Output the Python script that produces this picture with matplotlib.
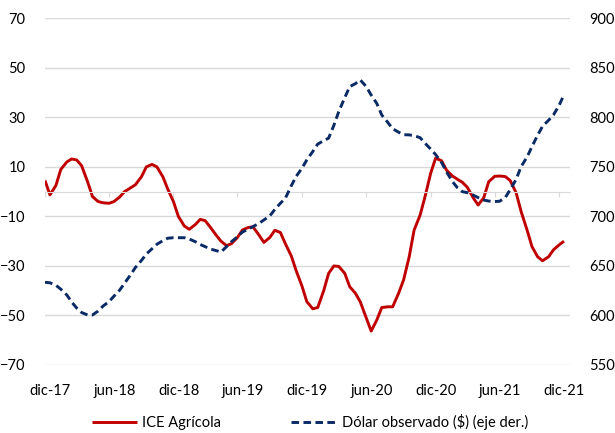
import numpy as np
import pandas as pd
import matplotlib
matplotlib.use('Agg')
import matplotlib.pyplot as plt

plt.rcParams['font.family'] = ['Lato', 'DejaVu Sans']

# semi-monthly readings, dic-17 .. dic-21
dates = pd.date_range('2017-12-01', '2021-12-16', freq='SMS')

ice_agricola = [
    4.5, -1.3, 2.5, 9.0, 12.0, 13.2, 12.8, 10.5, 4.0, -2.0,
    -4.0, -4.5, -4.7, -4.0, -2.2, 0.0, 1.5, 2.8, 6.0, 10.0,
    11.0, 10.0, 6.0, 1.0, -4.0, -10.0, -13.9, -15.2, -13.3, -11.2,
    -11.7, -14.2, -17.5, -20.0, -21.8, -21.0, -18.5, -15.5, -14.5, -14.2,
    -17.5, -20.5, -18.5, -15.6, -16.5, -21.0, -26.0, -32.0, -38.0, -44.4,
    -47.3, -46.8, -40.0, -33.0, -30.0, -30.2, -33.0, -38.4, -41.0, -44.5,
    -51.0, -56.3, -51.8, -46.8, -46.5, -46.5, -41.0, -35.7, -26.3, -15.5,
    -9.5, -2.0, 7.4, 13.5, 12.5, 8.7, 6.3, 5.0, 3.8, 1.8,
    -2.5, -5.4, -2.4, 4.0, 6.2, 6.3, 6.1, 4.5, -0.5, -8.0,
    -15.5, -22.2, -26.3, -27.9, -26.3, -23.5, -21.5, -20.0,
]

dolar_obs = [
    633.5, 633.0, 630.5, 626.5, 620.7, 613.5, 607.5, 603.0, 600.5, 600.5,
    604.5, 609.5, 614.0, 619.5, 625.5, 632.5, 641.0, 648.5, 655.5, 662.0,
    667.3, 671.9, 675.5, 678.0, 678.5, 678.5, 678.5, 677.2, 674.5, 671.7,
    669.5, 667.2, 665.5, 664.0, 669.5, 674.5, 679.5, 684.2, 687.0, 689.7,
    693.0, 696.4, 700.5, 707.0, 713.3, 718.3, 731.0, 740.5, 748.5, 757.0,
    765.5, 773.0, 776.5, 779.0, 792.0, 806.0, 820.0, 831.0, 834.0, 837.8,
    831.0, 822.5, 814.0, 802.4, 795.0, 788.5, 785.0, 782.5, 782.3, 781.5,
    779.5, 773.9, 768.0, 762.5, 754.5, 745.0, 735.1, 729.0, 725.0, 724.0,
    721.5, 719.0, 716.5, 715.5, 715.0, 715.3, 719.0, 727.0, 737.5, 750.2,
    760.0, 770.5, 782.0, 791.0, 797.0, 802.5, 812.0, 823.0,
]

tick_dates = pd.date_range('2017-12-01', '2021-12-01', freq='6MS')
tick_labels = ['dic-17', 'jun-18', 'dic-18', 'jun-19', 'dic-19',
               'jun-20', 'dic-20', 'jun-21', 'dic-21']
left_ticks = np.arange(-70, 71, 20)
right_ticks = np.arange(550, 901, 50)

red = '#c00000'
navy = '#0a2a66'
grid = '#d9d9d9'
fs = 10.5

fig, ax = plt.subplots(figsize=(6.15, 4.33), dpi=100)
fig.subplots_adjust(left=45/615, right=570/615, top=1-18.3/433, bottom=1-365/433)

ax.plot(dates, ice_agricola, color=red, lw=2.1, label='ICE Agrícola',
        solid_joinstyle='round', solid_capstyle='butt')
ax.set_ylim(-70, 70)
ax.set_yticks(left_ticks)
ax.set_xlim(pd.Timestamp('2017-12-01'), pd.Timestamp('2022-01-01'))
ax.grid(axis='y', color=grid, lw=1)
ax.set_axisbelow(True)
for s in ['left', 'right', 'top']:
    ax.spines[s].set_visible(False)
ax.spines['bottom'].set_position(('data', 0))
ax.spines['bottom'].set_color(grid)
ax.set_xticks(tick_dates)
ax.tick_params(axis='x', direction='out', length=3.5, color=grid,
               labelbottom=False)
ax.tick_params(axis='y', length=0, pad=14, labelsize=fs)

# date labels sit in the middle of the month, below the plot
sec = ax.secondary_xaxis('bottom')
sec.set_xticks(tick_dates + pd.Timedelta(days=15), labels=tick_labels)
sec.tick_params(length=0, pad=14, labelsize=fs)
sec.spines['bottom'].set_visible(False)

ax2 = ax.twinx()
ax2.plot(dates, dolar_obs, color=navy, lw=2.1, ls=(0, (2.6, 1.5)),
         dash_joinstyle='round', label='Dólar observado ($) (eje der.)')
ax2.set_ylim(550, 900)
ax2.set_yticks(right_ticks)
ax2.tick_params(axis='y', length=0, pad=14, labelsize=fs)
for s in ax2.spines.values():
    s.set_visible(False)

h1, l1 = ax.get_legend_handles_labels()
h2, l2 = ax2.get_legend_handles_labels()
fig.legend(h1 + h2, l1 + l2, loc='center', bbox_to_anchor=(310/615, 1-421.7/433),
           ncol=2, frameon=False, fontsize=fs, handlelength=3.1,
           handletextpad=0.35, columnspacing=4.8)

plt.savefig('out.png', dpi=100)
